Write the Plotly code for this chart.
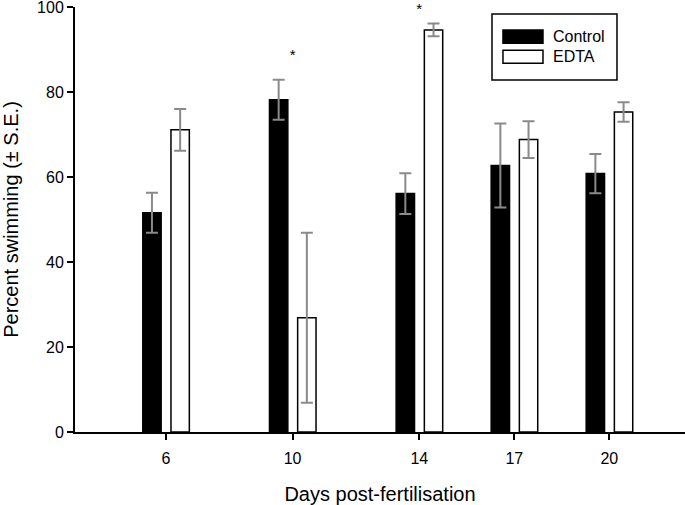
import plotly.graph_objects as go

# ---- data ----
days = [6, 10, 14, 17, 20]
series_names = ["Control", "EDTA"]
control_mean = [51.6, 78.2, 56.1, 62.7, 60.8]
control_se = [4.7, 4.7, 4.8, 9.9, 4.6]
edta_mean = [71.1, 26.9, 94.6, 68.8, 75.3]
edta_se = [4.9, 20.0, 1.5, 4.3, 2.3]
sig_days = [10, 14]
sig_y = [88.5, 99.2]
y_ticks = [0, 20, 40, 60, 80, 100]

FONT = "Arial, 'Liberation Sans', sans-serif"
ERR = "#8a8a8a"

fig = go.Figure()
fig.add_trace(go.Bar(
    x=days, y=control_mean, name=series_names[0],
    width=0.58, offset=-0.73,
    marker=dict(color="black", line=dict(color="black", width=1.5)),
    error_y=dict(type="data", array=control_se, color=ERR, thickness=2, width=6),
    showlegend=False,
))
fig.add_trace(go.Bar(
    x=days, y=edta_mean, name=series_names[1],
    width=0.58, offset=0.16,
    marker=dict(color="white", line=dict(color="black", width=1.5)),
    error_y=dict(type="data", array=edta_se, color=ERR, thickness=2, width=6),
    showlegend=False,
))
fig.add_trace(go.Scatter(
    x=sig_days, y=sig_y, mode="text", text=["*"] * len(sig_days),
    textfont=dict(family=FONT, size=15, color="black"),
    cliponaxis=False, showlegend=False, hoverinfo="skip",
))

# ---- custom legend (box with wide swatches) ----
lx0, lx1, ly0, ly1 = 0.6836, 0.8885, 0.8284, 0.9835
fig.add_shape(type="rect", xref="paper", yref="paper", x0=lx0, x1=lx1, y0=ly0, y1=ly1,
              line=dict(color="black", width=1.5), fillcolor="white")
swatch = [("black", 0.9147, 0.9459), ("white", 0.8677, 0.8983)]
for (fc, y0, y1), name in zip(swatch, series_names):
    fig.add_shape(type="rect", xref="paper", yref="paper", x0=0.7016, x1=0.7672, y0=y0, y1=y1,
                  line=dict(color="black", width=1.5), fillcolor=fc)
    fig.add_annotation(xref="paper", yref="paper", x=0.781, y=(y0 + y1) / 2, text=name,
                       showarrow=False, xanchor="left", yanchor="middle",
                       font=dict(family=FONT, size=16, color="black"))

fig.update_layout(
    width=685, height=505,
    margin=dict(l=75, r=0, t=7, b=73, pad=0, autoexpand=False),
    paper_bgcolor="white", plot_bgcolor="white",
    font=dict(family=FONT, size=16, color="black"),
    barmode="overlay",
    xaxis=dict(
        range=[3.13, 22.39], tickvals=days, ticktext=[str(d) for d in days],
        showline=True, linecolor="black", linewidth=2, automargin=False,
        ticks="outside", ticklen=6, tickwidth=1.5, tickcolor="black",
        showgrid=False, zeroline=False, ticklabeloverflow="allow",
        ticklabelstandoff=5,
        tickfont=dict(family=FONT, size=16, color="black"),
        title=dict(text="Days post-fertilisation", font=dict(family=FONT, size=20, color="black"), standoff=22),
    ),
    yaxis=dict(
        range=[0, 100], tickvals=y_ticks,
        showline=True, linecolor="black", linewidth=2, automargin=False,
        ticks="outside", ticklen=6, tickwidth=1.5, tickcolor="black",
        showgrid=False, zeroline=False, ticklabeloverflow="allow",
        tickfont=dict(family=FONT, size=16, color="black"),
        title=dict(text="Percent swimming (± S.E.)", font=dict(family=FONT, size=20, color="black"), standoff=27),
    ),
)

fig.write_html("out.html", config={"displayModeBar": False},
               post_script="document.body.style.margin='0';document.body.style.overflow='hidden';")
